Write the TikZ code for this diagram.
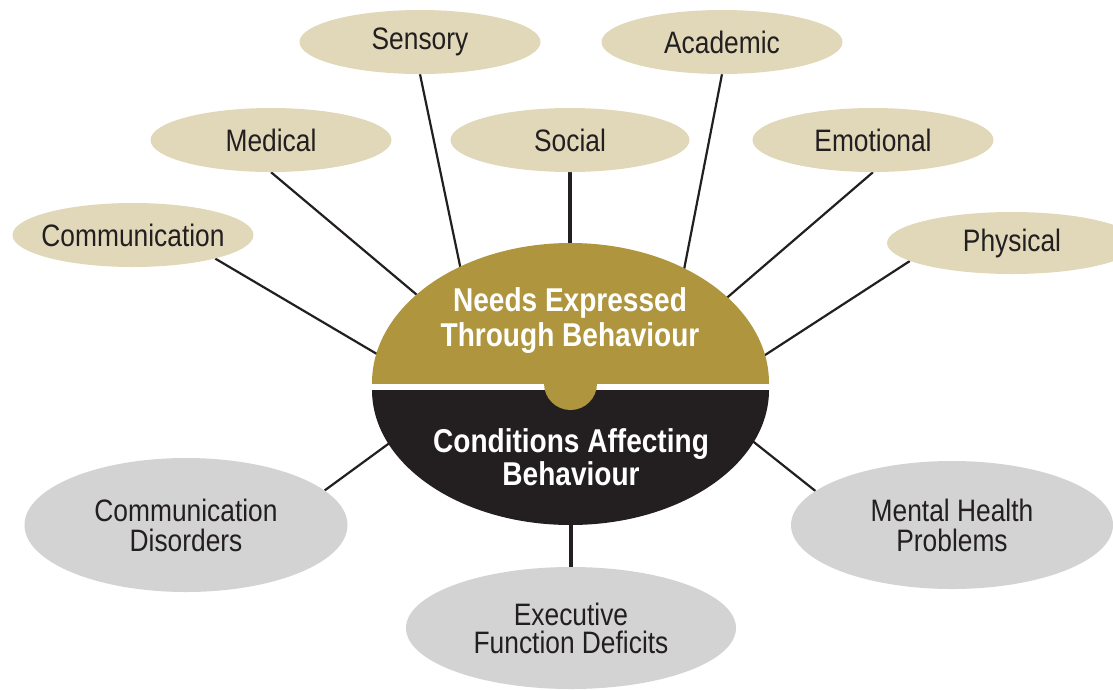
\documentclass[tikz,border=0pt]{standalone}
\usepackage{fontspec}
\setmainfont{Liberation Sans}[FakeStretch=0.85]
\usetikzlibrary{shapes.geometric}
\pgfdeclarelayer{bg}
\pgfsetlayers{bg,main}
\definecolor{tanc}{HTML}{E0D8B8}
\definecolor{goldc}{HTML}{AF963E}
\definecolor{darkc}{HTML}{231F20}
\definecolor{grayc}{HTML}{D3D3D3}
\newcommand{\nbox}[1]{\makebox[0pt]{#1}}
\tikzset{
  need/.style={ellipse, fill=tanc, inner sep=0pt, minimum width=241pt, minimum height=64pt,
    text=darkc, font=\fontsize{31}{31}\selectfont},
  cond/.style={ellipse, fill=grayc, inner sep=0pt, text=darkc, align=center,
    font=\fontsize{31}{30}\selectfont},
  link/.style={draw=darkc, line width=2.2pt},
  stem/.style={draw=darkc, line width=3.5pt},
  hubtext/.style={text=white, align=center, inner sep=0pt, font=\bfseries\fontsize{33}{35}\selectfont},
}
\begin{document}
\begin{tikzpicture}[x=1pt,y=-1pt]
\useasboundingbox (0,0) rectangle (1113,689);
% outer needs
\node[need] (sensory) at (420,42) {\nbox{Sensory}};
\node[need] (academic) at (722,42) {\nbox{Academic}};
\node[need] (medical) at (271,140) {\nbox{Medical}};
\node[need, minimum width=239pt] (social) at (570,140) {\nbox{Social}};
\node[need] (emotional) at (873,140) {\nbox{Emotional}};
\node[need] (communication) at (133,235) {\nbox{Communication}};
\node[need, minimum width=250pt, minimum height=62pt] (physical) at (1012,243) {\nbox{Physical}};
% conditions
\node[cond, minimum width=323pt, minimum height=134pt] (disorders) at (186,525) {Communication\\Disorders};
\node[cond, minimum width=322pt, minimum height=128pt] (mental) at (952,525) {Mental Health\\Problems};
\node[cond, minimum width=330pt, minimum height=122pt, font=\fontsize{31}{28}\selectfont] (executive) at (571,628) {Executive\\Function Deficits};
% hub
\node[ellipse, inner sep=0pt, minimum width=397pt, minimum height=282pt] (hub) at (570.5,385) {};
\begin{scope}
  \clip (300,200) rectangle (850,383);
  \fill[goldc] (570.5,383) ellipse [x radius=198.5, y radius=140];
\end{scope}
\begin{scope}
  \clip (300,390) rectangle (850,600);
  \fill[darkc] (570.5,390) ellipse [x radius=198.5, y radius=135];
\end{scope}
\begin{scope}
  \clip (500,383) rectangle (650,420);
  \fill[goldc] (570.5,383.5) circle [radius=26.5];
\end{scope}
\node[hubtext] (needs) at (570,321) {Needs Expressed\\Through Behaviour};
\node[hubtext, font=\bfseries\fontsize{33}{33}\selectfont] (conds) at (571,457) {Conditions Affecting\\Behaviour};
% connector ends inside the hub
\coordinate (tSensory) at (463,280);
\coordinate (tMedical) at (423,300);
\coordinate (tComm) at (382,357);
\coordinate (tSocial) at (570,255);
\coordinate (tAcademic) at (682,280);
\coordinate (tEmotional) at (722,302);
\coordinate (tPhysical) at (762,357);
\coordinate (tDisorders) at (395,439);
\coordinate (tMental) at (750,439);
\coordinate (tExecutive) at (571,515);
\begin{pgfonlayer}{bg}
  \draw[link] (sensory.south) -- (tSensory);
  \draw[link] (medical.south) -- (tMedical);
  \draw[link] (communication.-16) -- (tComm);
  \draw[stem] (social.south) -- (tSocial);
  \draw[link] (academic.south) -- (tAcademic);
  \draw[link] (emotional.south) -- (tEmotional);
  \draw[link] (physical.190) -- (tPhysical);
  \draw[link] (disorders.14) -- (tDisorders);
  \draw[link] (mental.166) -- (tMental);
  \draw[stem] (executive.north) -- (tExecutive);
\end{pgfonlayer}
\end{tikzpicture}
\end{document}
